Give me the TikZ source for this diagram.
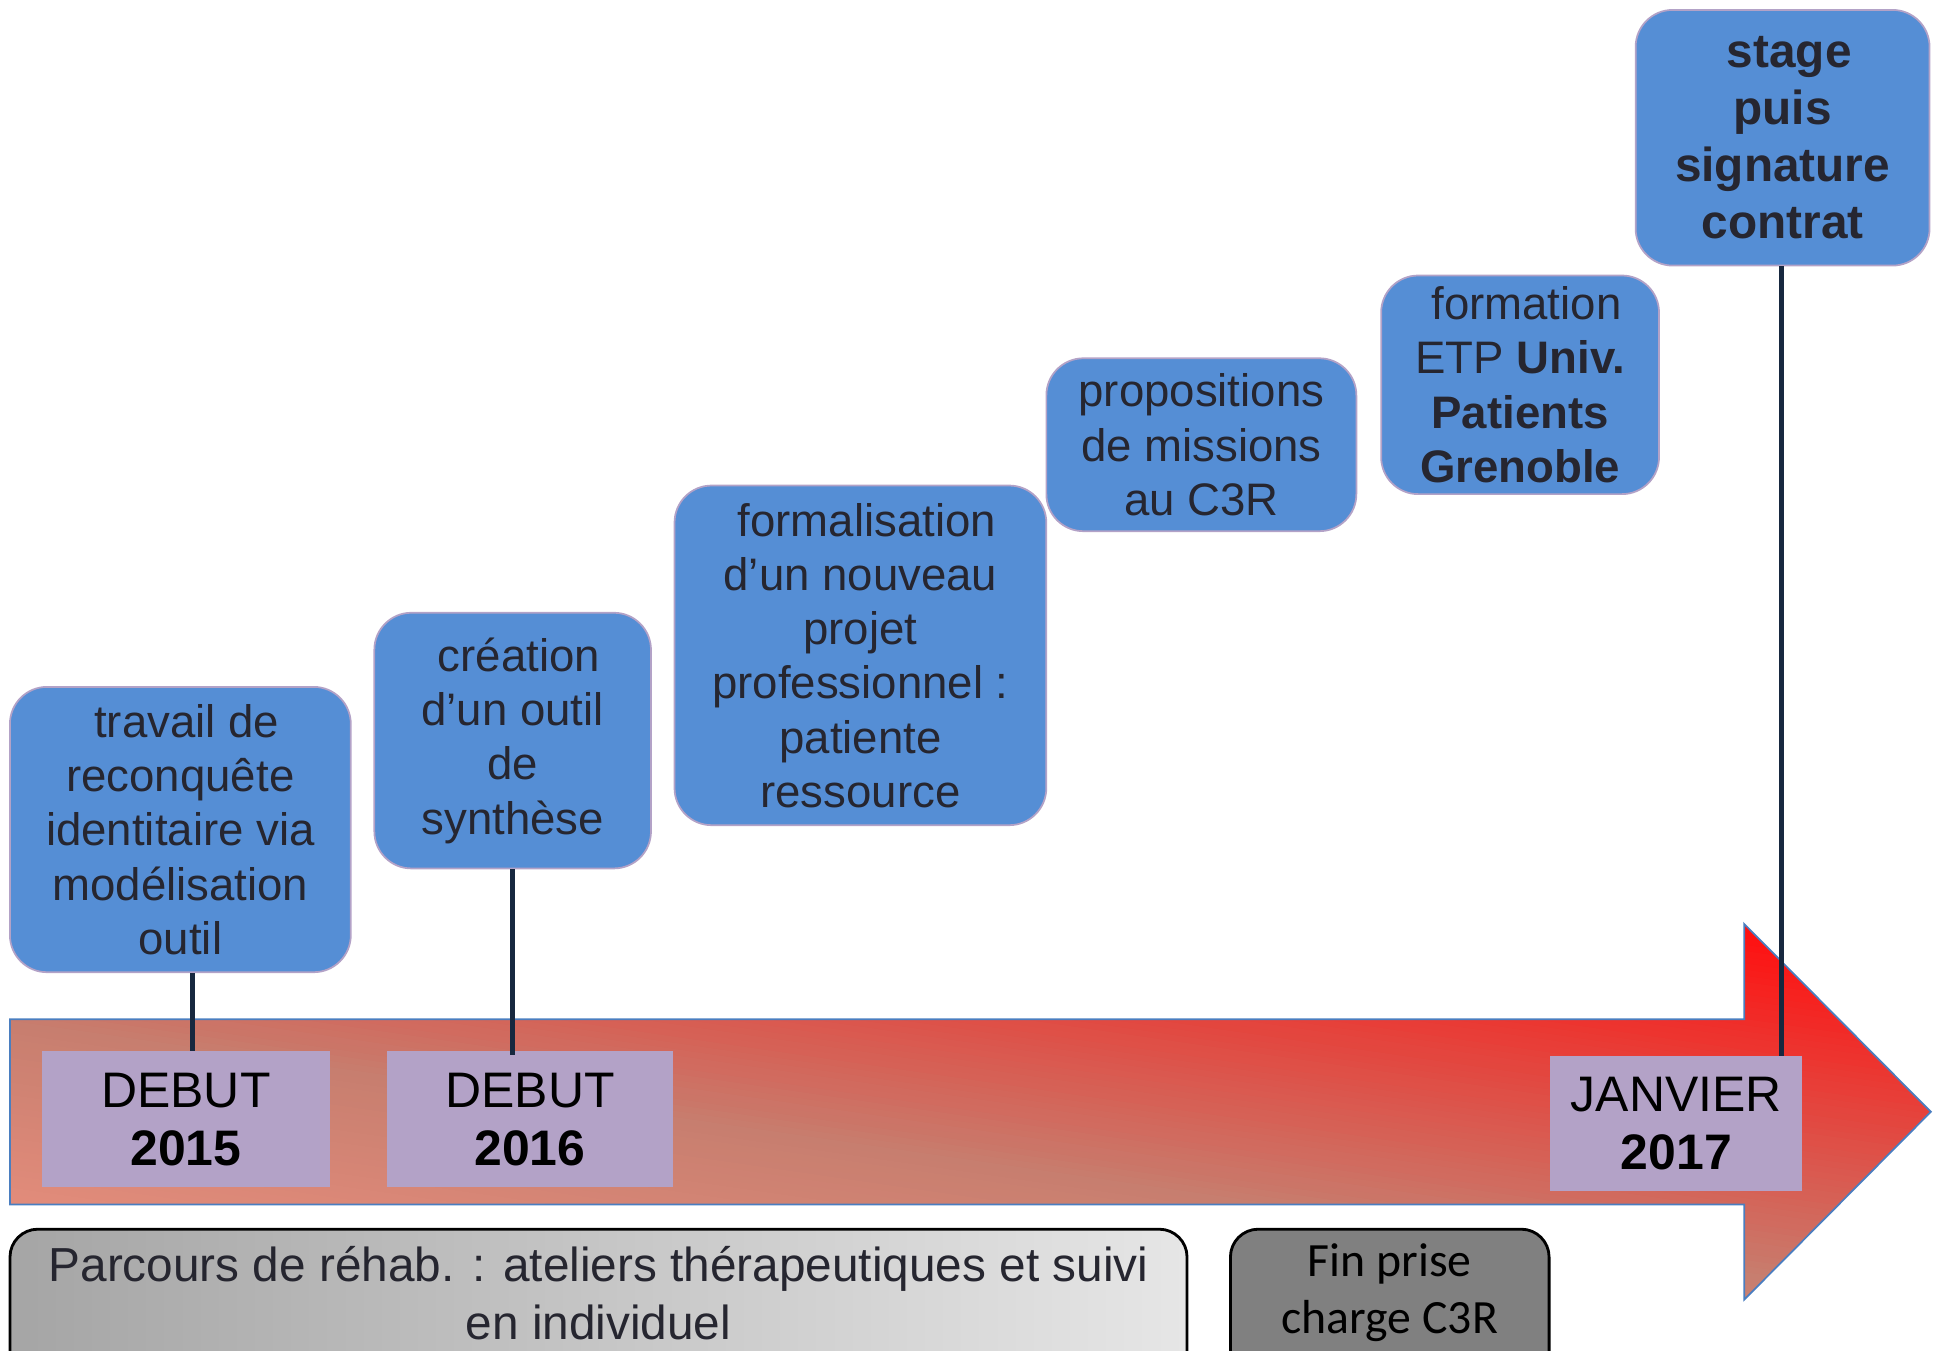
\documentclass[tikz,border=0pt]{standalone}
\usepackage{fontspec}
\setmainfont{Liberation Sans}
\newfontfamily\calibrifont{Carlito}
\definecolor{boxblue}{HTML}{558ED5}
\definecolor{boxedge}{HTML}{B3A2C7}
\definecolor{lilac}{HTML}{B3A2C7}
\definecolor{txt}{HTML}{262630}
\definecolor{conn}{HTML}{17283F}
\definecolor{arrowedge}{HTML}{4A7EC0}
\definecolor{salmon}{HTML}{E38C7B}
\definecolor{muted}{HTML}{C77E6F}
\definecolor{hot}{HTML}{FF1010}
\definecolor{grayA}{HTML}{A5A5A5}
\definecolor{grayB}{HTML}{E6E6E6}
\definecolor{grayC}{HTML}{808080}
\begin{document}
\begin{tikzpicture}[x=0.02cm,y=-0.02cm,
  event/.style={draw=boxedge, line width=0.8pt, fill=boxblue, rounded corners=0.6cm,
    align=center, text=txt, font=\fontsize{21}{25}\selectfont, inner sep=0pt},
  boldevent/.style={event, font=\fontsize{22}{26.2}\selectfont\bfseries},
  datebox/.style={fill=lilac, align=center, text=black,
    font=\fontsize{23}{26.7}\selectfont, inner sep=0pt},
  link/.style={draw=conn, line width=2.1pt},
  bottombox/.style={draw=black, line width=1.3pt, rounded corners=0.45cm, inner sep=0pt,
    minimum height=2.5cm},
  bottomtext/.style={align=center, font=\fontsize{22}{26.6}\selectfont}
]
\useasboundingbox (0,0) rectangle (1568,1093);
\clip (0,0) rectangle (1568,1093);

% big arrow with oblique gradient
\begin{scope}
  \clip (8,825) -- (1412,825) -- (1412,748) -- (1563,900) -- (1412,1052)
    -- (1412,975) -- (8,975) -- cycle;
  \foreach \c in {535,540,...,985}{
    \ifnum\c<825
      \pgfmathtruncatemacro\p{max(0,min(100,(\c-545)/2.8))}
      \colorlet{stripcol}{muted!\p!hot}
    \else
      \pgfmathtruncatemacro\p{min(100,(\c-825)/1.5)}
      \colorlet{stripcol}{salmon!\p!muted}
    \fi
    \fill[stripcol] (0,\c) -- (1568,\c+227.4) -- (1568,\c+233.4) -- (0,\c+6) -- cycle;
  }
\end{scope}
\draw[draw=arrowedge, line width=0.8pt]
  (8,825) -- (1412,825) -- (1412,748) -- (1563,900) -- (1412,1052)
  -- (1412,975) -- (8,975) -- cycle;

% event boxes
\node[event, minimum width=5.52cm, minimum height=4.62cm] (b1) at (146,671.5)
  {\hspace*{0.278em}travail de\\reconquête\\identitaire via\\modélisation\\outil};
\node[event, minimum width=4.48cm, minimum height=4.14cm] (b2) at (415,599.5)
  {\hspace*{0.278em}création\\d’un outil\\de\\synthèse};
\node[event, minimum width=6.02cm, minimum height=5.5cm] (b3) at (696.5,530.5)
  {\hspace*{0.278em}formalisation\\d’un nouveau\\projet\\professionnel :\\patiente\\ressource};
\node[event, minimum width=5.02cm, minimum height=2.8cm] (b4) at (972.5,360)
  {propositions\\de missions\\au C3R};
\node[event, minimum width=4.5cm, minimum height=3.54cm] (b5) at (1230.5,311.5)
  {\hspace*{0.278em}formation\\ETP \textbf{Univ.}\\\textbf{Patients}\\\textbf{Grenoble}};
\node[boldevent, minimum width=4.76cm, minimum height=4.14cm] (b6) at (1443,111.5)
  {\hspace*{0.278em}stage\\puis\\signature\\contrat};

% date boxes
\node[datebox, minimum width=4.66cm, minimum height=2.2cm] (p1) at (150.5,906)
  {DEBUT\\\textbf{2015}};
\node[datebox, minimum width=4.64cm, minimum height=2.2cm] (p2) at (429,906)
  {DEBUT\\\textbf{2016}};
\node[datebox, minimum width=4.08cm, minimum height=2.18cm] (p3) at (1357,909.5)
  {JANVIER\\\textbf{2017}};

% connectors
\draw[link] (b1.south -| 156,0) -- (p1.north -| 156,0);
\draw[link] (b2.south) -- ([yshift=-2pt]p2.north -| b2.south);
\draw[link] (b6.south -| 1442,0) -- (p3.north -| 1442,0);

% bottom boxes
\node[bottombox, left color=grayA, right color=grayB, minimum width=19.06cm] (parc) at (484.5,1057.5) {};
\node[bottomtext, text=txt] (parct) at (484.5,1046.5)
  {Parcours de réhab. : ateliers thérapeutiques et suivi\\en individuel};
\node[bottombox, fill=grayC, minimum width=5.16cm] (fin) at (1125,1057.5) {};
\node[bottomtext, text=black, font=\calibrifont\fontsize{22}{26.6}\selectfont] (fint) at (1125,1046.5)
  {Fin prise\\charge C3R};
\end{tikzpicture}
\end{document}
